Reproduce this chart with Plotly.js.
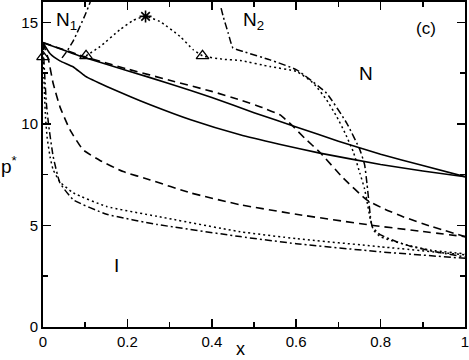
<!DOCTYPE html>
<html>
<head>
<meta charset="utf-8">
<script src="https://cdn.plot.ly/plotly-3.0.1.min.js"></script>
<style>
  html, body { margin: 0; padding: 0; background: #fff; }
  #plot { width: 469px; height: 360px; }
</style>
</head>
<body>
<div id="plot"></div>
<script>
// solid pair
var solidUpX = [0, 0.05, 0.1, 0.2, 0.3, 0.4, 0.5, 0.6, 0.7, 0.8, 0.9, 1];
var solidUpY = [14, 13.62, 13.25, 12.62, 11.98, 11.3, 10.55, 9.85, 9.15, 8.5, 7.95, 7.4];
var solidLoX = [0, 0.017, 0.04, 0.072, 0.1, 0.151, 0.206, 0.254, 0.35, 0.467, 0.56, 0.656, 0.8, 0.9, 1];
var solidLoY = [14, 13.45, 13.1, 12.8, 12.35, 11.84, 11.35, 10.94, 10.2, 9.46, 9.0, 8.56, 8.0, 7.68, 7.4];

// dashed pair
var dashUpX = [0, 0.1, 0.2, 0.3, 0.4, 0.467, 0.52, 0.562, 0.589, 0.62, 0.656, 0.712, 0.767, 0.81, 0.853, 0.92, 1];
var dashUpY = [14, 13.3, 12.7, 12.15, 11.6, 11.18, 10.8, 10.44, 9.95, 9.3, 8.6, 7.32, 6.26, 5.8, 5.43, 4.95, 4.45];
var dashLoX = [0, 0.013, 0.024, 0.04, 0.064, 0.095, 0.135, 0.19, 0.254, 0.35, 0.467, 0.6, 0.775, 0.9, 1];
var dashLoY = [14, 13.15, 12.0, 10.85, 9.7, 8.72, 8.2, 7.65, 7.24, 6.6, 6.02, 5.55, 5.02, 4.7, 4.45];

// dotted pair
var dotUpX = [0.102, 0.135, 0.182, 0.214, 0.243, 0.277, 0.325, 0.356, 0.378, 0.427, 0.467, 0.538, 0.601, 0.641, 0.672, 0.696, 0.716, 0.735, 0.751, 0.762, 0.77, 0.776, 0.783, 0.799, 0.814, 0.86, 0.917, 1];
var dotUpY = [13.35, 13.8, 14.63, 15.1, 15.29, 15.04, 14.3, 13.65, 13.35, 13.18, 13.12, 12.82, 12.58, 12.0, 11.18, 10.36, 9.54, 8.64, 7.57, 6.8, 5.93, 5.27, 4.78, 4.45, 4.33, 4.05, 3.79, 3.6];
var dotLoX = [0, 0.002, 0.004, 0.006, 0.01, 0.017, 0.024, 0.04, 0.072, 0.151, 0.27, 0.467, 0.6, 0.8, 1];
var dotLoY = [13.3, 12.3, 11.2, 10.3, 9.3, 8.35, 7.75, 7.15, 6.6, 5.93, 5.45, 4.69, 4.35, 3.95, 3.55];

// dash-dot lines
var ddLoX = [0, 0.004, 0.008, 0.013, 0.024, 0.04, 0.072, 0.151, 0.27, 0.467, 0.6, 0.8, 1];
var ddLoY = [14, 12.4, 11.0, 10.0, 8.4, 7.1, 6.26, 5.55, 5.05, 4.45, 4.1, 3.7, 3.38];
var ddN1X = [0.045, 0.056, 0.072, 0.1, 0.112];
var ddN1Y = [13.25, 13.55, 14.1, 15.37, 16.0];
var ddN2X = [0.422, 0.427, 0.439, 0.45, 0.475, 0.538, 0.601, 0.672, 0.72, 0.751, 0.762, 0.768, 0.772, 0.776, 0.78, 0.79, 0.8, 0.838, 0.87, 0.93, 1];
var ddN2Y = [15.7, 15.29, 14.46, 13.74, 13.56, 13.15, 12.66, 11.51, 10.03, 8.72, 8.0, 7.0, 6.2, 5.4, 4.95, 4.7, 4.53, 4.2, 3.98, 3.7, 3.45];

// special points
var triX = [0, 0.102, 0.378];
var triY = [13.3, 13.35, 13.35];
var starX = [0.243];
var starY = [15.29];

var FONT = 'Liberation Sans, Arial, sans-serif';

function line(x, y, dash, w) {
  return {
    x: x, y: y, type: 'scatter', mode: 'lines',
    line: {color: '#000', width: w, dash: dash, shape: 'spline', smoothing: 0.4},
    hoverinfo: 'skip'
  };
}

var data = [
  line(solidUpX, solidUpY, 'solid', 1.6),
  line(solidLoX, solidLoY, 'solid', 1.6),
  line(dashUpX, dashUpY, '8px,5px', 1.6),
  line(dashLoX, dashLoY, '8px,5px', 1.6),
  line(dotUpX, dotUpY, '2px,3px', 1.5),
  line(dotLoX, dotLoY, '2px,3px', 1.5),
  line(ddLoX, ddLoY, '7px,3px,2px,3px', 1.5),
  line(ddN1X, ddN1Y, '7px,3px,2px,3px', 1.5),
  line(ddN2X, ddN2Y, '7px,3px,2px,3px', 1.5),
  {
    x: triX, y: triY, type: 'scatter', mode: 'markers', cliponaxis: false,
    marker: {symbol: 'triangle-up-open', size: 11, color: '#000', line: {width: 1.3, color: '#000'}},
    hoverinfo: 'skip'
  },
  {
    x: starX, y: starY, type: 'scatter', mode: 'markers', cliponaxis: false,
    marker: {symbol: 'asterisk-open', size: 10, color: '#000', line: {width: 1.6, color: '#000'}},
    hoverinfo: 'skip'
  }
];

var axisCommon = {
  showline: true, linecolor: '#000', linewidth: 2, mirror: 'allticks',
  ticks: 'inside', ticklen: 8, tickwidth: 1.5, tickcolor: '#000',
  showgrid: false, zeroline: false, ticklabeloverflow: 'allow',
  tickfont: {family: FONT, size: 15, color: '#000'}
};

var layout = {
  width: 469, height: 360,
  margin: {l: 43, r: 4, t: 2, b: 33},
  paper_bgcolor: '#fff', plot_bgcolor: '#fff',
  showlegend: false,
  font: {family: FONT, color: '#000'},
  xaxis: Object.assign({}, axisCommon, {
    range: [0, 1], tickvals: [0, 0.2, 0.4, 0.6, 0.8, 1],
    ticktext: ['0', '0.2', '0.4', '0.6', '0.8', '1'],
    minor: {ticks: 'inside', ticklen: 5, tickwidth: 1.5, tickcolor: '#000', tickvals: [0.1, 0.3, 0.5, 0.7, 0.9]}
  }),
  yaxis: Object.assign({}, axisCommon, {
    range: [0, 16], tickvals: [0, 5, 10, 15],
    minor: {ticks: 'inside', ticklen: 5, tickwidth: 1.5, tickcolor: '#000', tickvals: [2.5, 7.5, 12.5]}
  }),
  annotations: [
    {xref: 'paper', yref: 'paper', x: -0.08, y: 0.5, text: 'p<sup>*</sup>', showarrow: false,
     font: {family: FONT, size: 19}, xanchor: 'center', yanchor: 'middle'},
    {xref: 'paper', yref: 'paper', x: 0.467, y: -0.1, text: 'x', showarrow: false,
     font: {family: FONT, size: 18}, xanchor: 'center', yanchor: 'bottom', borderpad: 0},
    {x: 0.026, y: 15.05, text: 'N<sub>1</sub>', showarrow: false, xanchor: 'left', yanchor: 'middle',
     font: {family: FONT, size: 19}},
    {x: 0.469, y: 15.05, text: 'N<sub>2</sub>', showarrow: false, xanchor: 'left', yanchor: 'middle',
     font: {family: FONT, size: 19}},
    {x: 0.908, y: 14.72, text: '(c)', showarrow: false, font: {family: FONT, size: 17}},
    {x: 0.765, y: 12.5, text: 'N', showarrow: false, font: {family: FONT, size: 19}},
    {x: 0.175, y: 3.05, text: 'I', showarrow: false, font: {family: FONT, size: 19}}
  ]
};

Plotly.newPlot('plot', data, layout, {staticPlot: true, displayModeBar: false});
</script>
</body>
</html>
